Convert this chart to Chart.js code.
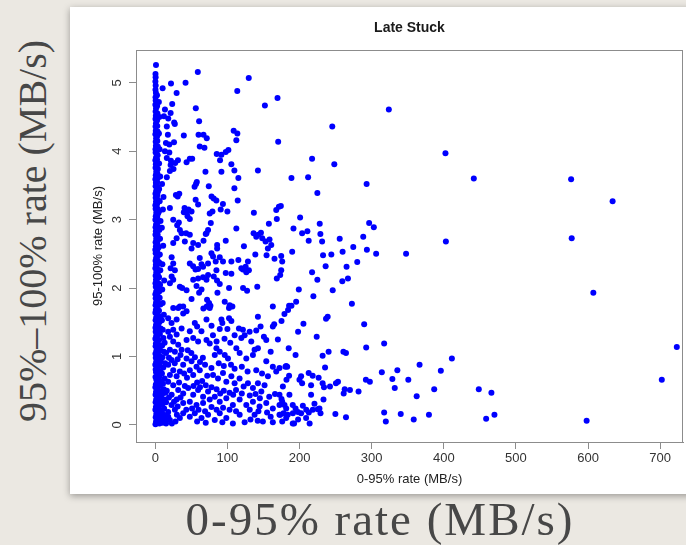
<!DOCTYPE html>
<html>
<head>
<meta charset="utf-8">
<script src="https://cdn.jsdelivr.net/npm/chart.js@4.4.0/dist/chart.umd.min.js"></script>
<style>
  html, body { margin: 0; padding: 0; }
  body {
    width: 686px; height: 545px; overflow: hidden; position: relative;
    background: #ebe8e2;
  }
  #card {
    position: absolute; left: 70px; top: 7px; width: 640px; height: 487px;
    background: #fff; box-shadow: 0 2px 7px rgba(0, 0, 0, 0.35);
  }
  #plot { position: absolute; left: 0; top: 0; }
  .outer {
    position: absolute; white-space: nowrap;
    font-family: "Liberation Serif", serif; color: #474747;
  }
  #outerY { left: 32px; top: 231px; font-size: 40px; transform: translate(-50%, -50%) rotate(-90deg); }
  #outerX { left: 380px; top: 519px; font-size: 47px; letter-spacing: 2px; transform: translate(-50%, -50%); }
</style>
</head>
<body>
<div id="outerY" class="outer">95%–100% rate (MB/s)</div>
<div id="card"><canvas id="plot" width="616" height="487"></canvas></div>
<div id="outerX" class="outer">0-95% rate (MB/s)</div>
<script>
const chartTitle = "Late Stuck";
const xTitle = "0-95% rate (MB/s)";
const yTitle = "95-100% rate (MB/s)";
const xTicks = [0, 100, 200, 300, 400, 500, 600, 700];
const yTicks = [0, 1, 2, 3, 4, 5];

// [0-95% rate, 95-100% rate] pairs
// saturated column right at zero
const bandA = [[0.3,0.01],[1.1,0.05],[0.6,0.11],[1.4,0.16],[0.2,0.22],[0.9,0.26],[0.5,0.33],[1.3,0.37],[0.4,0.44],[1.0,0.48],[0.2,0.55],[0.8,0.59],[1.5,0.66],[0.3,0.70],[1.1,0.77],[0.6,0.81],[0.1,0.88],[1.2,0.92],[0.7,0.98],[0.3,1.04],[1.4,1.08],[0.5,1.15],[0.9,1.19],[0.2,1.26],[1.2,1.30],[0.6,1.36],[0.3,1.42],[1.0,1.46],[0.5,1.53],[1.3,1.57],[0.2,1.64],[0.8,1.68],[0.4,1.75],[1.1,1.79],[0.6,1.85],[0.2,1.91],[1.3,1.95],[0.7,2.02],[0.3,2.07],[1.0,2.12],[0.5,2.18],[1.4,2.23],[0.2,2.29],[0.8,2.34],[0.4,2.40],[1.2,2.44],[0.6,2.51],[0.1,2.56],[0.9,2.61],[0.5,2.67],[1.3,2.72],[0.3,2.78],[0.8,2.83],[0.4,2.89],[1.1,2.93],[0.2,3.00],[0.7,3.05],[1.4,3.10],[0.5,3.16],[0.2,3.21],[1.0,3.26],[0.6,3.32],[0.3,3.38],[1.2,3.42],[0.5,3.49],[0.9,3.54],[0.2,3.59],[0.7,3.65],[1.3,3.70],[0.4,3.76],[0.8,3.81],[0.2,3.87],[1.1,3.91],[0.5,3.98],[0.3,4.03],[0.9,4.08],[0.6,4.14],[1.2,4.19],[0.2,4.25],[0.7,4.30],[0.4,4.36],[1.0,4.41],[0.3,4.47],[0.8,4.52],[0.5,4.58],[1.1,4.63],[0.2,4.68],[0.6,4.74],[0.4,4.79],[0.9,4.85],[0.3,4.90],[0.6,4.96],[0.2,5.02],[0.5,5.08],[0.3,5.13],[1.0,5.26]];
const bandB = [[3.1,0.03],[4.2,0.09],[2.6,0.14],[3.8,0.20],[2.9,0.27],[4.4,0.31],[3.3,0.38],[2.5,0.45],[4.0,0.50],[3.2,0.57],[2.7,0.63],[4.3,0.68],[3.5,0.75],[2.8,0.82],[3.9,0.87],[3.0,0.94],[4.5,1.00],[2.6,1.06],[3.6,1.12],[3.1,1.19],[4.1,1.24],[2.7,1.31],[3.4,1.38],[4.4,1.43],[2.9,1.50],[3.7,1.56],[3.2,1.63],[2.5,1.69],[4.0,1.75],[3.3,1.82],[2.8,1.89],[3.8,1.94],[3.0,2.01],[4.2,2.07],[2.6,2.14],[3.5,2.20],[3.1,2.27],[2.7,2.34],[3.9,2.39],[3.2,2.46],[2.5,2.53],[3.6,2.58],[2.9,2.65],[4.1,2.71],[3.3,2.78],[2.6,2.85],[3.7,2.90],[3.0,2.97],[2.8,3.04],[3.9,3.09],[3.2,3.16],[2.5,3.23],[3.5,3.29],[2.9,3.36],[3.8,3.41],[3.1,3.48],[2.6,3.55],[3.4,3.61],[2.8,3.68],[3.6,3.74],[3.0,3.81],[2.5,3.88],[3.3,3.94],[2.7,4.01],[3.5,4.07],[2.9,4.15],[2.6,4.22],[3.2,4.29],[2.8,4.37],[2.5,4.45],[3.0,4.55],[2.6,4.66],[2.4,4.82]];
const bandC = [[5.8,0.02],[7.4,0.08],[6.2,0.15],[8.1,0.21],[5.5,0.28],[6.9,0.35],[7.8,0.42],[5.9,0.49],[6.6,0.57],[8.3,0.63],[5.4,0.70],[7.1,0.78],[6.0,0.86],[7.7,0.93],[5.6,1.01],[6.8,1.09],[8.0,1.16],[5.3,1.24],[6.4,1.33],[7.5,1.41],[5.7,1.50],[6.9,1.58],[5.2,1.67],[7.2,1.76],[6.1,1.86],[5.5,1.95],[6.7,2.05],[5.3,2.16],[7.0,2.26],[5.8,2.37],[6.3,2.49],[5.1,2.60],[6.6,2.72],[5.6,2.85],[7.3,2.98],[5.2,3.12],[6.1,3.27],[5.4,3.45],[6.8,3.63],[5.3,3.82],[6.0,4.03],[5.1,4.26],[5.7,4.50],[5.0,4.72]];
const bandD = [[10.2,0.03],[13.8,0.06],[11.5,0.12],[9.4,0.18],[14.6,0.14],[12.3,0.24],[10.1,0.31],[13.2,0.37],[9.6,0.45],[11.8,0.52],[14.1,0.47],[10.7,0.60],[12.9,0.68],[9.3,0.75],[11.2,0.84],[13.6,0.90],[10.0,0.99],[12.0,1.07],[9.5,1.16],[11.3,1.27],[13.0,1.20],[10.4,1.39],[9.2,1.53],[11.9,1.61],[10.3,1.78],[9.7,1.98],[12.4,2.11],[9.9,2.35],[11.0,2.62],[9.1,2.88],[10.6,3.15],[9.4,3.52],[11.4,3.33]];

// upper left (above ~3.5 MB/s)
const upperLeft = [[59,5.16],[129.6,5.07],[21.8,4.99],[42,5.0],[29.6,4.85],[113.7,4.88],[169.5,4.78],[152,4.67],[56.2,4.63],[23.5,4.69],[60.8,4.44],[26.2,4.42],[27.1,4.40],[108.7,4.30],[113.8,4.26],[60,4.24],[66.9,4.24],[71.4,4.19],[39.6,4.23],[112.4,4.16],[170.4,4.14],[61.7,4.07],[68.2,4.05],[85.2,3.96],[91.7,3.95],[89.8,3.87],[97.7,3.99],[101.4,4.02],[105.5,3.81],[109.7,3.72],[91.7,3.70],[69.6,3.70],[142.3,3.72],[115.2,3.61],[57.6,3.55],[188.8,3.61],[43.4,3.84],[47.9,3.89],[51.2,3.89],[31.4,3.87],[27.6,3.83],[21.7,3.86],[25.3,3.74],[20.3,3.71],[26,4.13],[13.4,4.61],[12,4.51],[18,4.48],[21.3,4.56],[10.2,4.92],[16,4.36],[17.5,4.24],[14.8,4.12],[19.5,4.10],[13.4,4.0],[19.5,3.98],[16,3.90],[21.3,3.80],[16,3.62]];

// middle left (about 1.7 to 3.5 MB/s)
const middleLeft = [[56.5,3.52],[54.5,3.48],[74.2,3.49],[109.7,3.46],[28.6,3.36],[33.3,3.38],[31.1,3.34],[56,3.29],[59.4,3.22],[78,3.34],[81,3.31],[84.7,3.28],[93.8,3.23],[114.3,3.28],[20.3,3.17],[40.6,3.17],[46.1,3.15],[50.3,3.12],[43.4,3.10],[39.6,3.11],[79.3,3.12],[75.5,3.09],[90.7,3.15],[100,3.12],[44.7,3.05],[47.9,3.01],[24.9,3.0],[77,2.95],[73.2,2.85],[71,2.80],[32.7,2.96],[30.4,2.92],[112.4,2.87],[136.7,3.10],[167.7,3.14],[171.4,3.19],[174.1,3.20],[157.5,2.94],[168.5,3.01],[191.6,2.87],[136.3,2.80],[142.8,2.78],[146.5,2.81],[140,2.75],[148.3,2.73],[152.9,2.68],[158.4,2.71],[160.8,2.63],[156.1,2.58],[122.9,2.61],[97.7,2.69],[42.8,2.80],[47.9,2.78],[41,2.68],[52.6,2.66],[50.3,2.58],[59.4,2.63],[34.1,2.85],[36.5,2.80],[29.6,2.73],[24.9,2.66],[70,2.79],[66.9,2.69],[85.8,2.63],[85.8,2.58],[138.7,2.49],[154.3,2.48],[165.3,2.43],[174.6,2.47],[176,2.39],[189.8,2.53],[174.6,2.26],[173.2,2.19],[168.5,2.14],[77.9,2.51],[80.1,2.46],[73.2,2.36],[89.4,2.45],[93.9,2.39],[83.8,2.39],[61.7,2.44],[64.1,2.35],[52.5,2.32],[47.9,2.36],[55.8,2.27],[59.4,2.28],[66.3,2.31],[22.7,2.45],[24.9,2.36],[21.3,2.29],[27.2,2.26],[105.5,2.39],[115.2,2.41],[128.5,2.39],[97.7,2.22],[105.5,2.21],[121.5,2.27],[126.2,2.23],[129.8,2.26],[119.3,2.29],[125.3,2.31],[84.8,2.26],[81.1,2.17],[85.6,2.11],[89.4,2.06],[71,2.12],[73.2,2.19],[66.3,2.16],[59.4,2.14],[52.6,2.12],[57.2,2.03],[64.1,1.98],[60.8,1.93],[37.3,2.0],[43.4,1.97],[34.1,2.02],[22.7,2.17],[24.9,2.12],[20.3,2.07],[86.2,1.93],[102.3,2.0],[121.7,2.0],[127.3,1.96],[141.4,2.02],[199,1.98],[103.2,1.75],[96.3,1.80],[50.3,1.84],[38.7,1.73],[31.8,1.71],[71.8,1.83],[76.5,1.74],[74.6,1.78]];

// lower left (below ~1.7 MB/s)
const lowerLeft = [[66.7,1.70],[71.4,1.73],[75.5,1.71],[102.2,1.71],[106.9,1.73],[142.3,1.58],[163,1.73],[24.9,1.71],[34.1,1.73],[43.4,1.66],[38.7,1.63],[17.9,1.56],[22.6,1.49],[29.6,1.54],[47.9,1.37],[36.5,1.41],[54.8,1.49],[71,1.54],[91.7,1.54],[93,1.49],[89.4,1.40],[100,1.40],[102.3,1.56],[105.5,1.52],[116,1.41],[121.5,1.39],[123.9,1.31],[119.3,1.27],[130.8,1.36],[133.1,1.22],[150.6,1.29],[153.9,1.24],[163,1.44],[164.9,1.47],[43.4,1.24],[52.6,1.27],[59.4,1.22],[71,1.24],[75.5,1.19],[24.9,1.22],[31.8,1.17],[36.5,1.10],[27.2,1.07],[20.3,1.10],[84.8,1.12],[89.4,1.07],[96.3,1.02],[82.5,1.02],[100.8,0.97],[112.4,1.12],[117,1.05],[126.2,0.97],[135.4,1.02],[137.7,1.10],[142.3,1.12],[153.9,0.93],[163,0.85],[172.2,0.83],[181.5,0.86],[156.2,0.71],[167.7,0.78],[43.4,0.97],[50.3,0.93],[57.2,0.85],[61.7,0.80],[47.9,0.80],[52.6,0.73],[38.7,0.88],[34.1,0.78],[29.6,0.71],[77.9,0.83],[80.1,0.73],[87,0.68],[93.9,0.76],[98.5,0.63],[105.5,0.71],[110,0.61],[116.9,0.68],[122.5,0.56],[128.5,0.61],[135.4,0.54],[142.3,0.61],[147,0.49],[151.5,0.58],[24.9,0.58],[31.8,0.51],[38.7,0.46],[45.6,0.54],[52.6,0.44],[59.4,0.51],[66.3,0.41],[73.2,0.49],[22.7,0.44],[29.6,0.37],[38.7,0.32],[47.9,0.34],[57.2,0.29],[66.3,0.32],[75.5,0.37],[82.5,0.41],[89.4,0.34],[98.5,0.39],[107.6,0.29],[117,0.37],[126.2,0.29],[135.4,0.34],[144.6,0.27],[153.9,0.32],[163,0.24],[172.2,0.29],[181.5,0.24],[190.6,0.29],[38.7,0.17],[47.9,0.12],[54.8,0.17],[64.1,0.10],[73.2,0.15],[82.5,0.07],[89.4,0.17],[98.5,0.10],[107.6,0.02],[117,0.15],[123.9,0.04],[137.7,0.15],[149.2,0.05],[163,0.04],[172.2,0.15],[181.5,0.10],[190.6,0.02],[202.2,0.17],[209.1,0.10],[17.9,1.36],[20.3,1.29],[24.9,1.39],[29.6,1.32],[22.6,0.95],[17.9,0.88],[24.9,0.80],[20.3,0.73],[17.9,0.63],[22.6,0.29],[27.2,0.22],[34.1,0.10],[17.9,0.19],[20.3,0.07]];

// the thick cluster below 1.5 MB/s, second pass
const lowerFill = [[15,1.05],[19,0.98],[16,0.50],[19,0.40],[15,0.33],[18,0.12],[15,0.02],[23,0.02],[28,0.05],[31,0.27],[35,0.40],[41,0.57],[44,0.69],[40,0.75],[33,0.62],[27,0.90],[31,0.96],[35,1.02],[45,1.09],[50,1.05],[55,0.99],[62,0.92],[66,0.98],[69,0.88],[72,0.72],[65,0.64],[58,0.62],[53,0.57],[62,0.55],[70,0.58],[78,0.55],[85,0.52],[90,0.46],[95,0.50],[103,0.47],[108,0.44],[112,0.51],[120,0.46],[131,0.43],[139,0.45],[145,0.39],[158,0.41],[166,0.45],[175,0.38],[186,0.44],[160,0.12],[155,0.18],[143,0.20],[131,0.22],[112,0.20],[103,0.22],[94,0.25],[85,0.22],[78,0.26],[69,0.20],[60,0.22],[51,0.24],[43,0.22],[30,0.15],[26,0.34],[58,0.05],[70,0.03],[93,0.04],[132,0.08],[142,0.06],[176,0.05],[198,0.08],[88,0.90],[95,0.86],[105,0.88],[110,0.82],[120,0.85],[128,0.78],[140,0.80],[148,0.75],[104,1.20],[96,1.26],[80,1.31],[85,1.22],[64,1.37],[58,1.44],[78,1.45],[110,1.31],[140,1.38],[146,1.44],[175,1.52],[170,1.25],[185,1.12],[160,1.07]];

// 170-360 MB/s, low band
const lowerMid = [[185.5,1.74],[188.8,1.74],[184.1,1.68],[179.1,1.62],[195.3,1.80],[272.6,1.77],[239,1.58],[236.7,1.55],[205.4,1.48],[198,1.36],[223.8,1.29],[289.6,1.47],[317.3,1.19],[292.4,1.13],[260.8,1.07],[264.4,1.05],[240.3,1.07],[232,1.01],[194.5,1.02],[235.4,0.84],[180.5,0.85],[182.9,0.85],[185.5,0.72],[181.9,0.66],[202.2,0.71],[199.9,0.66],[203.6,0.61],[212.7,0.76],[218.2,0.72],[226.5,0.69],[232,0.61],[233.9,0.55],[242.2,0.56],[250.5,0.61],[253.3,0.63],[262.6,0.52],[261.2,0.46],[269.9,0.51],[281.8,0.49],[292,0.66],[297.5,0.63],[314.1,0.77],[328.7,0.67],[335.6,0.80],[332,0.54],[350.8,0.66],[216,0.58],[216,0.44],[176.9,0.56],[172.2,0.44],[176,0.34],[194.5,0.24],[190.8,0.17],[197.7,0.19],[204.6,0.28],[209.3,0.22],[212.9,0.18],[218.4,0.22],[220.7,0.31],[225.3,0.23],[229.1,0.17],[233.2,0.37],[227.6,0.24],[177.8,0.17],[173.2,0.15],[183.7,0.15],[179.2,0.29],[249.7,0.16],[264.4,0.11],[192.4,0.02],[214,0.02],[317.3,0.18],[319.6,0.05],[340.3,0.16]];

// everything else, out to the right
const outliers = [[323.8,4.61],[245.4,4.36],[402.3,3.97],[217.4,3.89],[248.2,3.81],[211.9,3.62],[441.6,3.60],[576.5,3.59],[293,3.52],[224.7,3.39],[634,3.27],[200.8,3.03],[296.5,2.95],[303,2.89],[228,2.94],[203.6,2.80],[210.9,2.83],[228.9,2.79],[402.9,2.68],[577.3,2.73],[347.7,2.50],[607.3,1.93],[723,1.14],[702.2,0.66],[598,0.06],[411.2,0.97],[366.4,0.88],[395.9,0.79],[448.5,0.52],[466,0.47],[458.7,0.09],[470.2,0.15],[358.3,0.08],[379.4,0.15],[362.4,0.42],[386.7,0.52],[246,1.97],[219.2,1.88],[217.4,2.23],[224.7,2.12],[259.3,2.10],[267.1,2.14],[236.2,2.32],[265.2,2.31],[280,2.38],[232.6,2.48],[244.1,2.49],[259.7,2.53],[274.5,2.60],[293.4,2.56],[306.2,2.50],[288.3,2.75],[255.7,2.72],[231.3,2.68],[212.7,2.69]];

const allPoints = [bandA, bandB, bandC, bandD, upperLeft, middleLeft, lowerLeft, lowerFill, lowerMid, outliers]
  .flat()
  .map(p => ({ x: p[0], y: p[1] }));

const axisFont = { family: "'Liberation Sans', Arial, sans-serif", size: 13 };

// draws the box, the title and the upright y tick labels the way R does
const rStyle = {
  id: "rStyle",
  afterDraw(chart) {
    const { ctx, chartArea } = chart;
    const yScale = chart.scales.y;
    ctx.save();
    ctx.strokeStyle = "#8c8c8c";
    ctx.lineWidth = 1;
    ctx.strokeRect(chartArea.left + 0.5, chartArea.top + 0.5,
      chartArea.right - chartArea.left - 1, chartArea.bottom - chartArea.top);

    ctx.fillStyle = "#1a1a1a";
    ctx.font = "bold 14px 'Liberation Sans', Arial, sans-serif";
    ctx.textAlign = "center";
    ctx.textBaseline = "middle";
    ctx.fillText(chartTitle, (chartArea.left + chartArea.right) / 2, 21);

    ctx.fillStyle = "#333";
    ctx.font = "13px 'Liberation Sans', Arial, sans-serif";
    yTicks.forEach(v => {
      const py = yScale.getPixelForValue(v);
      ctx.save();
      ctx.translate(chartArea.left - 19, py);
      ctx.rotate(-Math.PI / 2);
      ctx.fillText(String(v), 0, 0);
      ctx.restore();
    });
    ctx.restore();
  }
};

new Chart(document.getElementById("plot"), {
  type: "scatter",
  data: {
    datasets: [{
      data: allPoints,
      backgroundColor: "#0000ff",
      borderWidth: 0,
      pointRadius: 3,
      pointHoverRadius: 3
    }]
  },
  options: {
    responsive: false,
    animation: false,
    events: [],
    layout: { padding: { top: 43, right: 1, left: 0, bottom: 0 } },
    plugins: { legend: { display: false }, title: { display: false }, tooltip: { enabled: false } },
    scales: {
      x: {
        type: "linear",
        min: -26.7,
        max: 731.6,
        afterBuildTicks: scale => { scale.ticks = xTicks.map(v => ({ value: v })); },
        afterFit: scale => { scale.height = 52; },
        ticks: { font: axisFont, color: "#333", padding: 2, maxRotation: 0 },
        grid: { drawOnChartArea: false, tickLength: 7, tickColor: "#8c8c8c" },
        border: { color: "#8c8c8c" },
        title: { display: true, text: xTitle, font: axisFont, color: "#222", padding: { top: 0, bottom: 7 } }
      },
      y: {
        type: "linear",
        min: -0.25,
        max: 5.48,
        afterBuildTicks: scale => { scale.ticks = yTicks.map(v => ({ value: v })); },
        afterFit: scale => { scale.width = 66; },
        ticks: { callback: () => "", padding: 0 },
        grid: { drawOnChartArea: false, tickLength: 7, tickColor: "#8c8c8c" },
        border: { color: "#8c8c8c" },
        title: { display: true, text: yTitle, font: axisFont, color: "#222", padding: { top: 21, bottom: 0 } }
      }
    }
  },
  plugins: [rStyle]
});
</script>
</body>
</html>
